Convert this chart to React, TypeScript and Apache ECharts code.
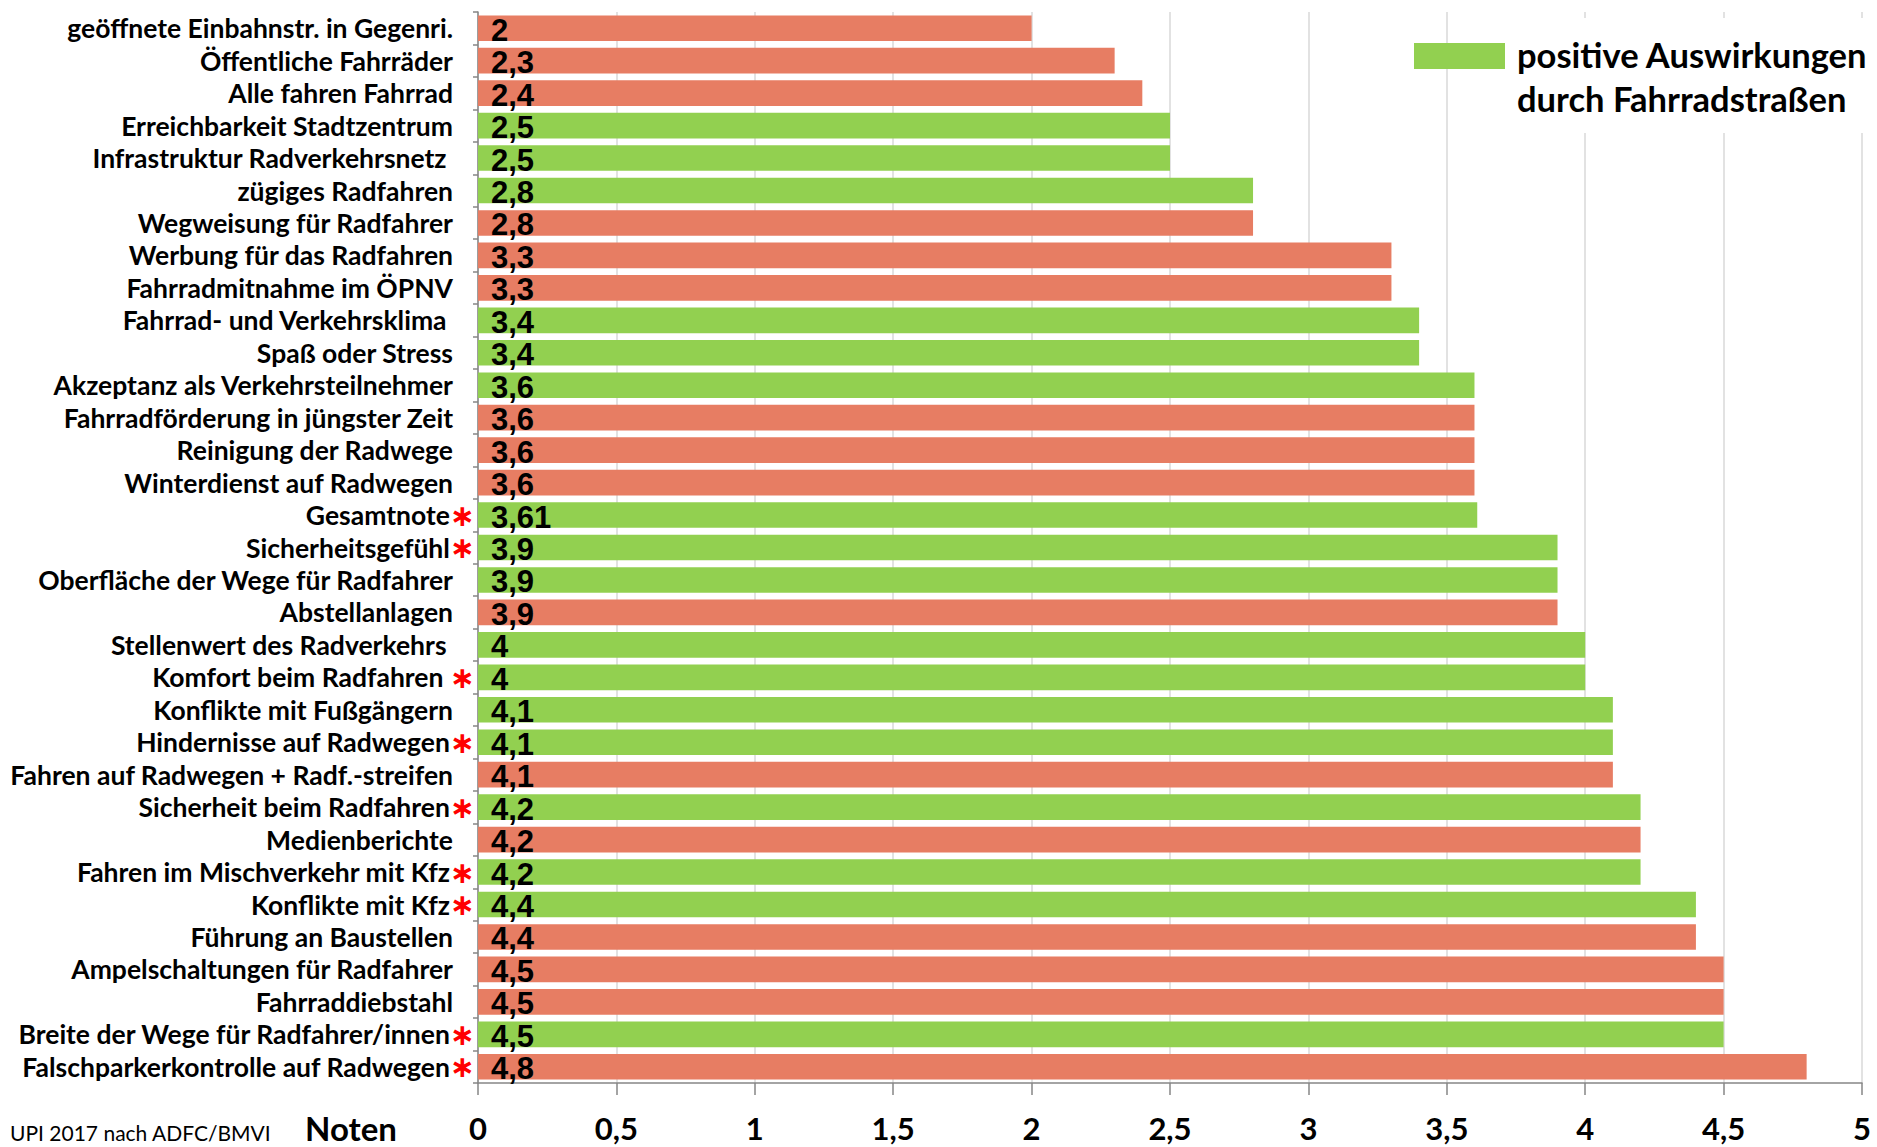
import React, { useEffect, useRef } from "react";
import * as echarts from "echarts";

const categories = [
  "geöffnete Einbahnstr. in Gegenri.",
  "Öffentliche Fahrräder",
  "Alle fahren Fahrrad",
  "Erreichbarkeit Stadtzentrum",
  "Infrastruktur Radverkehrsnetz ",
  "zügiges Radfahren",
  "Wegweisung für Radfahrer",
  "Werbung für das Radfahren",
  "Fahrradmitnahme im ÖPNV",
  "Fahrrad- und Verkehrsklima ",
  "Spaß oder Stress",
  "Akzeptanz als Verkehrsteilnehmer",
  "Fahrradförderung in jüngster Zeit",
  "Reinigung der Radwege",
  "Winterdienst auf Radwegen",
  "Gesamtnote",
  "Sicherheitsgefühl",
  "Oberfläche der Wege für Radfahrer",
  "Abstellanlagen",
  "Stellenwert des Radverkehrs ",
  "Komfort beim Radfahren ",
  "Konflikte mit Fußgängern",
  "Hindernisse auf Radwegen",
  "Fahren auf Radwegen + Radf.-streifen",
  "Sicherheit beim Radfahren",
  "Medienberichte",
  "Fahren im Mischverkehr mit Kfz",
  "Konflikte mit Kfz",
  "Führung an Baustellen",
  "Ampelschaltungen für Radfahrer",
  "Fahrraddiebstahl",
  "Breite der Wege für Radfahrer/innen",
  "Falschparkerkontrolle auf Radwegen",
];

const values = [
  2, 2.3, 2.4, 2.5, 2.5, 2.8, 2.8, 3.3, 3.3, 3.4, 3.4, 3.6, 3.6, 3.6, 3.6,
  3.61, 3.9, 3.9, 3.9, 4, 4, 4.1, 4.1, 4.1, 4.2, 4.2, 4.2, 4.4, 4.4, 4.5, 4.5,
  4.5, 4.8,
];

// true = positive Auswirkungen durch Fahrradstraßen (green)
const positive = [
  false, false, false, true, true, true, false, false, false, true, true, true,
  false, false, false, true, true, true, false, true, true, true, true, false,
  true, false, true, true, false, false, false, true, false,
];

const starred = [
  false, false, false, false, false, false, false, false, false, false, false,
  false, false, false, false, true, true, false, false, false, true, false,
  true, false, true, false, true, true, false, false, false, true, true,
];

const xTicks = [0, 0.5, 1, 1.5, 2, 2.5, 3, 3.5, 4, 4.5, 5];

const GREEN = "#92D050";
const RED = "#E77D63";
const AXIS = "#868686";
const GRID = "#D9D9D9";
const FONT = "Lato, 'Open Sans', sans-serif";

export default function App() {
  const ref = useRef<HTMLDivElement>(null);

  useEffect(() => {
    if (!ref.current) return;
    const chart = echarts.init(ref.current, null, { renderer: "svg" });

    const data = values.map((v, i) => ({
      value: v,
      itemStyle: { color: positive[i] ? GREEN : RED },
    }));

    chart.setOption({
      animation: false,
      backgroundColor: "#ffffff",
      grid: { left: 478, right: 15, top: 12, bottom: 64, containLabel: false },
      xAxis: {
        type: "value",
        min: 0,
        max: 5,
        interval: 0.5,
        axisLine: { show: true, lineStyle: { color: AXIS, width: 1.5 } },
        axisTick: { show: true, length: 12, lineStyle: { color: AXIS, width: 1.5 } },
        splitLine: { show: true, lineStyle: { color: GRID, width: 1.5 } },
        axisLabel: {
          margin: 29,
          fontFamily: FONT,
          fontWeight: "bold",
          fontSize: 31,
          color: "#000",
          formatter: (v: number) =>
            xTicks.includes(v) ? String(v).replace(".", ",") : "",
        },
      },
      yAxis: {
        type: "category",
        inverse: true,
        data: categories,
        axisLine: { show: true, lineStyle: { color: AXIS, width: 1.5 } },
        axisTick: { show: true, length: 5, lineStyle: { color: AXIS, width: 1.5 } },
        splitLine: { show: false },
        axisLabel: {
          margin: 3,
          interval: 0,
          formatter: (name: string) => {
            const i = categories.indexOf(name);
            return starred[i] ? `{t|${name}}{s|∗}` : `{t|${name}}{p|}`;
          },
          rich: {
            t: {
              fontFamily: FONT,
              fontWeight: "bold",
              fontSize: 26.5,
              color: "#000",
            },
            s: {
              fontFamily: "'DejaVu Sans', sans-serif",
              fontWeight: "bold",
              fontSize: 30,
              color: "#FF0000",
            },
            p: { width: 22 },
          },
        },
      },
      series: [
        {
          type: "bar",
          data,
          barCategoryGap: "21%",
          label: {
            show: true,
            position: "insideLeft",
            offset: [8, 2],
            fontFamily: "'Liberation Sans', Arial, sans-serif",
            fontWeight: "bold",
            fontSize: 31,
            color: "#000",
            formatter: (p: any) => String(p.value).replace(".", ","),
          },
        },
      ],
      graphic: [
        {
          type: "rect",
          shape: { x: 1510, y: 18, width: 367, height: 115 },
          style: { fill: "#ffffff" },
          z: 10,
        },
        {
          type: "rect",
          shape: { x: 1414, y: 43, width: 91, height: 26 },
          style: { fill: GREEN },
          z: 11,
        },
        {
          type: "text",
          x: 1517,
          y: 54,
          style: {
            text: "positive Auswirkungen",
            font: `bold 34.5px ${FONT}`,
            fill: "#000",
            textVerticalAlign: "middle",
          },
          z: 11,
        },
        {
          type: "text",
          x: 1517,
          y: 98,
          style: {
            text: "durch Fahrradstraßen",
            font: `bold 34.5px ${FONT}`,
            fill: "#000",
            textVerticalAlign: "middle",
          },
          z: 11,
        },
        {
          type: "text",
          x: 305,
          y: 1128,
          style: {
            text: "Noten",
            font: `bold 33px ${FONT}`,
            fill: "#000",
            textVerticalAlign: "middle",
          },
        },
        {
          type: "text",
          x: 10,
          y: 1132,
          style: {
            text: "UPI 2017 nach ADFC/BMVI",
            font: `21px ${FONT}`,
            fill: "#000",
            textVerticalAlign: "middle",
          },
        },
      ],
    });

    return () => chart.dispose();
  }, []);

  return (
    <div
      ref={ref}
      style={{ position: "fixed", left: 0, top: 0, width: 1877, height: 1147 }}
    />
  );
}
